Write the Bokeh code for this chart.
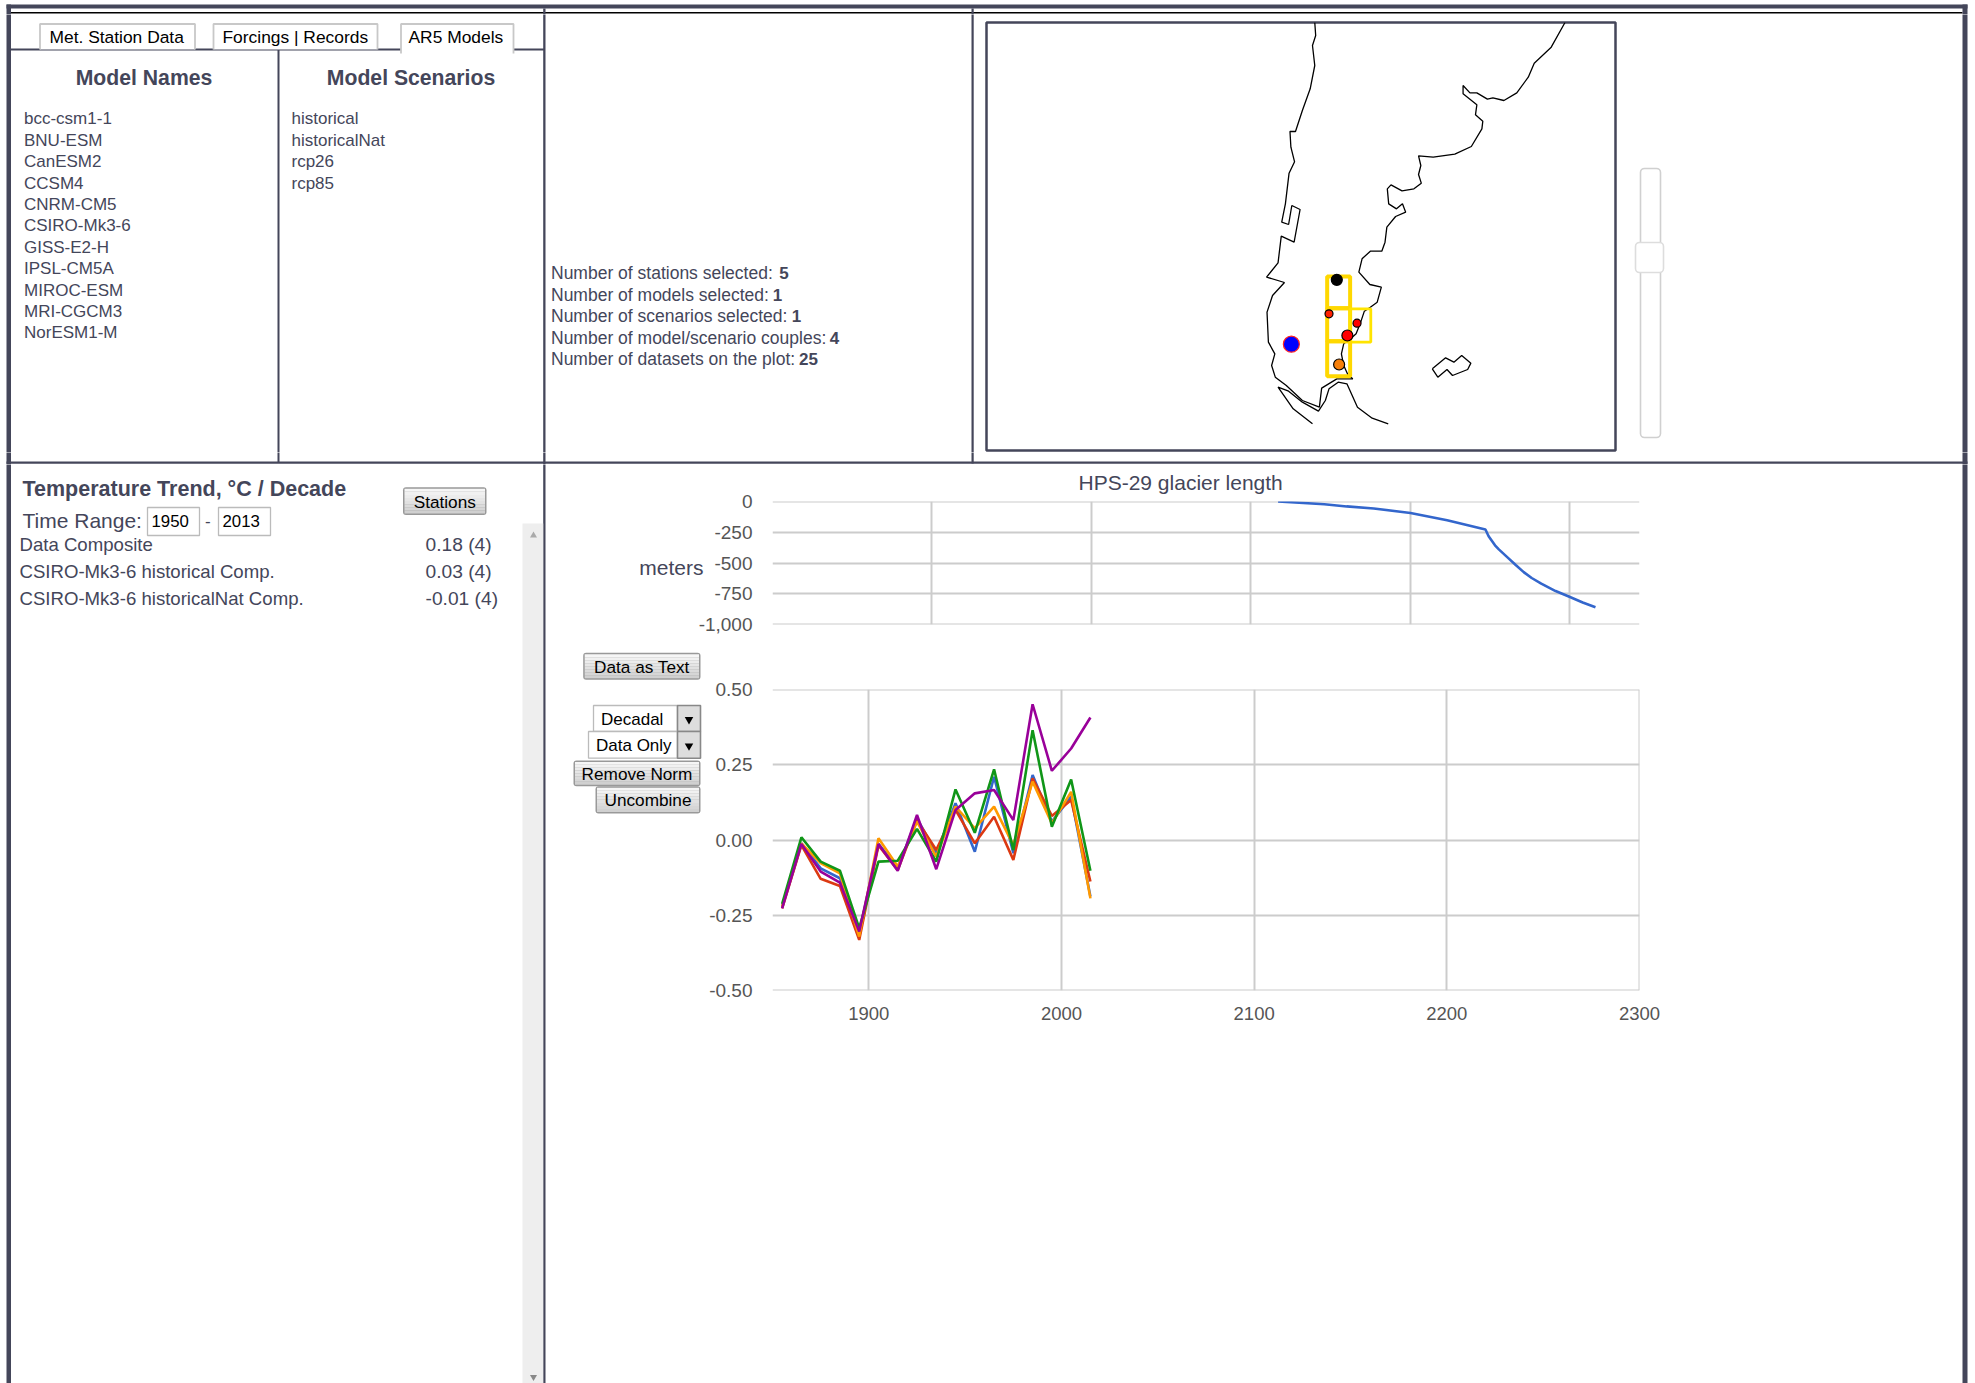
from bokeh.plotting import figure
from bokeh.layouts import row, column
from bokeh.models import Range1d, FixedTicker, LinearAxis, Title
from bokeh.core.properties import value
from bokeh.embed import file_html
from bokeh.resources import INLINE

# ---------- texts ----------
tabs = ["Met. Station Data", "Forcings | Records", "AR5 Models"]
model_names = ["bcc-csm1-1", "BNU-ESM", "CanESM2", "CCSM4", "CNRM-CM5", "CSIRO-Mk3-6",
               "GISS-E2-H", "IPSL-CM5A", "MIROC-ESM", "MRI-CGCM3", "NorESM1-M"]
model_scenarios = ["historical", "historicalNat", "rcp26", "rcp85"]
summary_labels = ["Number of stations selected:", "Number of models selected:",
                  "Number of scenarios selected:", "Number of model/scenario couples:",
                  "Number of datasets on the plot:"]
summary_values = ["5", "1", "1", "4", "25"]
trend_names = ["Data Composite", "CSIRO-Mk3-6 historical Comp.", "CSIRO-Mk3-6 historicalNat Comp."]
trend_values = ["0.18 (4)", "0.03 (4)", "-0.01 (4)"]

# ---------- glacier length chart ----------
glacier_x = [317, 346, 360, 377, 400, 423, 447, 449, 453, 455.4, 461, 466, 471, 476, 482, 491, 500, 508, 516]
glacier_y = [0, -22, -40, -57, -93, -152, -228, -283, -356, -389, -456, -516, -574, -622, -668, -728, -777, -821, -859]
glacier_yticks = [0, -250, -500, -750, -1000]
glacier_ylabels = ["0", "-250", "-500", "-750", "-1,000"]
glacier_xticks = [100, 200, 300, 400, 500]
unit_tick = -537

# ---------- temperature chart ----------
decades = [1855, 1865, 1875, 1885, 1895, 1905, 1915, 1925, 1935, 1945, 1955, 1965, 1975, 1985, 1995, 2005, 2015]
series_blue = [-.221, -.011, -.094, -.127, -.310, -.013, -.094, .072, -.044, .122, -.039, .210, -.044, .216, .061, .144, -.188]
series_red = [-.227, -.017, -.129, -.153, -.332, -.017, -.100, .066, -.033, .100, -.011, .077, -.066, .205, .080, .133, -.138]
series_orange = [-.221, -.011, -.077, -.111, -.321, .006, -.088, .061, -.055, .111, .039, .111, -.017, .194, .055, .160, -.194]
series_green = [-.212, .009, -.072, -.102, -.293, -.072, -.069, .037, -.072, .168, .024, .235, -.033, .365, .044, .201, -.102]
series_purple = [-.227, -.013, -.105, -.142, -.304, -.013, -.102, .083, -.097, .100, .155, .166, .066, .451, .230, .304, .407]
temp_xticks = [1900, 2000, 2100, 2200, 2300]
temp_yticks = [0.5, 0.25, 0.0, -0.25, -0.5]
temp_ylabels = ["0.50", "0.25", "0.00", "-0.25", "-0.50"]

# ---------- map, in map units ----------
west_x = [772, 774, 767, 772, 762, 745, 730, 718, 720, 728, 716, 708, 700, 715, 722, 740, 727, 699, 692, 667, 706, 680, 668, 671, 685, 678, 686, 710, 745, 782, 787, 820, 855]
west_y = [66, 105, 135, 195, 265, 330, 393, 393, 440, 484, 518, 610, 665, 672, 615, 627, 725, 707, 787, 830, 846, 885, 935, 1025, 1060, 1095, 1130, 1155, 1200, 1220, 1163, 1135, 1135]
east_x = [1317, 1287, 1250, 1237, 1212, 1184, 1160, 1148, 1125, 1110, 1095, 1095, 1125, 1122, 1138, 1136, 1113, 1077, 1030, 998, 1003, 998, 1004, 988, 962, 938, 930, 933, 950, 963, 970, 948, 929, 925, 918, 893, 875, 868, 892, 917, 908, 893, 880, 872, 862, 850, 835, 830, 835, 845, 855]
east_y = [66, 140, 188, 230, 277, 300, 292, 296, 277, 277, 255, 280, 313, 343, 362, 385, 438, 461, 470, 466, 495, 522, 548, 565, 571, 553, 565, 610, 625, 610, 635, 648, 680, 725, 752, 752, 775, 815, 852, 860, 905, 920, 932, 965, 1000, 1015, 1030, 1060, 1095, 1125, 1135]
fuego_x = [767, 725, 692, 715, 745, 780, 795, 803, 823, 842, 865, 897, 932]
fuego_y = [1270, 1225, 1160, 1172, 1205, 1232, 1200, 1165, 1145, 1150, 1220, 1253, 1270]
falkland_x = [1028, 1057, 1075, 1092, 1112, 1105, 1072, 1060, 1040, 1028]
falkland_y = [1105, 1072, 1085, 1065, 1088, 1107, 1125, 1107, 1130, 1105]
box_left = [799, 799, 849, 799]
box_right = [849, 849, 894, 849]
box_top = [828, 923, 925, 1022]
box_bottom = [923, 1022, 1025, 1127]
station_x = [820, 803, 864, 843, 825]
station_y = [838, 940, 968, 1005, 1092]
station_color = ["#000000", "#ff2200", "#ff0000", "#ff0000", "#f77f0a"]
station_size = [11, 8, 8, 11, 11]
selected_x = [721]
selected_y = [1031]

# ---------- style ----------
FONT = "Liberation Sans"
INK = "#44465a"
TICK = "#555555"
GRID = "#cccccc"


def pixel_fig(x0, x1, y0, y1):
    p = figure(width=x1 - x0, height=y1 - y0, x_range=Range1d(x0, x1), y_range=Range1d(y1, y0),
               x_axis_type=None, y_axis_type=None, output_backend="svg", toolbar_location=None,
               min_border=0, outline_line_color=None, frame_align=False)
    p.grid.visible = False
    structure(p)
    return p


def bar(p, l, r, t, b, color=INK):
    p.quad(left=l, right=r, top=t, bottom=b, fill_color=color, line_color=None)


def structure(p):
    bar(p, 6, 1967, 4, 8)              # top bar
    bar(p, 10, 1962, 11.5, 13, "#000000")
    bar(p, 6, 10.5, 4, 1383)           # left border
    bar(p, 1962, 1967, 4, 1383)        # right border
    bar(p, 542.7, 545, 8, 1383)        # panel divider
    bar(p, 971, 973.2, 8, 463)         # map divider
    bar(p, 277, 279, 49, 462)          # names / scenarios divider
    bar(p, 10, 544, 48, 50)            # tab line
    bar(p, 6, 1967, 461, 463.3)        # row divider


def label(p, x, y, txt, size=17, color=INK, align="left", style="normal"):
    p.text(x=[x], y=[y], text=[txt], text_font=value(FONT), text_font_size=f"{size}px",
           text_color=color, text_align=align, text_baseline="middle", text_font_style=style)


def button(p, l, r, t, b, txt):
    p.quad(left=l, right=r, top=t, bottom=b, fill_color="#999999", line_color=None, border_radius=3)
    steps = 8
    h = (b - t - 3) / steps
    for i in range(steps):
        shade = 246 - int(i * 38 / (steps - 1))
        c = f"#{shade:02x}{shade:02x}{shade:02x}"
        bar(p, l + 1.5, r - 1.5, t + 1.5 + i * h, t + 1.5 + (i + 1) * h, c)
    label(p, (l + r) / 2, (t + b) / 2 + 0.5, txt, 17.2, "#000000", "center")


def select(p, l, split, r, t, b, txt):
    p.quad(left=l, right=split, top=t, bottom=b, fill_color="#ffffff", line_color="#bbbbbb", line_width=1.3)
    p.quad(left=split, right=r, top=t, bottom=b, fill_color="#dddddd", line_color="#888888", line_width=1.6)
    p.scatter(x=[(split + r) / 2], y=[(t + b) / 2 + 1], marker="inverted_triangle", size=8.5,
              fill_color="#000000", line_color=None)
    label(p, l + 7.5, (t + b) / 2 + 1, txt, 17, "#000000")


# ---------- top strip ----------
strip_top = pixel_fig(0, 1975, 0, 14)

# ---------- top left panel ----------
mid_left = pixel_fig(0, 975, 14, 452)
tab_edges = [(39.5, 194.5), (213, 377), (400.5, 513)]
tab_text_x = [49, 222, 408]
for i, ((l, r), tx, t) in enumerate(zip(tab_edges, tab_text_x, tabs)):
    bottom = 53 if i == 2 else 49
    mid_left.quad(left=l, right=r, top=23.5, bottom=bottom, fill_color="#ffffff", line_color=None)
    mid_left.line(x=[l, l, r, r], y=[bottom, 23.5, 23.5, bottom], line_color="#c8c8c8", line_width=1.8)
    label(mid_left, tx, 36, t, 17.4, "#000000")
label(mid_left, 143.5, 76.5, "Model Names", 21.2, INK, "center", "bold")
label(mid_left, 410.5, 76.5, "Model Scenarios", 21.2, INK, "center", "bold")
for i, name in enumerate(model_names):
    label(mid_left, 23.5, 118.4 + 21.4 * i, name)
for i, name in enumerate(model_scenarios):
    label(mid_left, 291, 118.4 + 21.4 * i, name)
value_x = [783.4, 777, 796, 834, 808]
for i, (txt, val) in enumerate(zip(summary_labels, summary_values)):
    label(mid_left, 550.5, 272.8 + 21.4 * i, txt, 17.5)
    label(mid_left, value_x[i], 272.8 + 21.4 * i, val, 17, align="center", style="bold")

# ---------- map ----------
map_fig = figure(width=650, height=438, x_range=Range1d(57, 1427), y_range=Range1d(1350, 66),
                 x_axis_type=None, y_axis_type=None, output_backend="svg", toolbar_location=None,
                 min_border_left=11, min_border_right=10, min_border_top=8, min_border_bottom=2,
                 outline_line_color=INK, outline_line_width=2.5, frame_align=False)
map_fig.grid.visible = False
for xs, ys in [(west_x, west_y), (east_x, east_y), (fuego_x, fuego_y), (falkland_x, falkland_y)]:
    map_fig.line(x=xs, y=ys, line_color="#000000", line_width=1.3)
map_fig.quad(left=box_left, right=box_right, top=box_top, bottom=box_bottom,
             fill_color=None, line_color=["#ffd800", "#ffd800", "#ffe400", "#ffd800"],
             line_width=[4, 4, 2.8, 4])
map_fig.scatter(x=selected_x, y=selected_y, size=16, fill_color="#0000ff", line_color="#ff2222", line_width=1.2)
map_fig.scatter(x=station_x, y=station_y, size=station_size, fill_color=station_color,
                line_color="#000000", line_width=1.2)

# ---------- right of map: slider ----------
mid_right = pixel_fig(1625, 1975, 14, 452)
mid_right.quad(left=1640, right=1660, top=168, bottom=437, fill_color="#ffffff", line_color="#d0d0d0",
               line_width=1.6, border_radius=4)
mid_right.quad(left=1635, right=1663, top=242, bottom=272, fill_color="#ffffff", line_color="#dddddd",
               line_width=1.6, border_radius=4)

# ---------- divider strip ----------
strip_mid = pixel_fig(0, 1975, 452, 464)

# ---------- lower left panel ----------
low_left = pixel_fig(0, 546, 464, 1383)
bar(low_left, 522, 542.7, 523, 1383, "#eeeeee")
low_left.scatter(x=[533], y=[535], marker="triangle", size=7, fill_color="#aaaaaa", line_color=None)
low_left.scatter(x=[533], y=[1376.5], marker="inverted_triangle", size=7, fill_color="#888888", line_color=None)
label(low_left, 22, 488, "Temperature Trend, °C / Decade", 21.5, INK, style="bold")
label(low_left, 22, 519.5, "Time Range:", 21)
label(low_left, 204.5, 520, "-", 17)
for l, r, txt in [(147, 199, "1950"), (218, 270, "2013")]:
    low_left.quad(left=l, right=r, top=507, bottom=535, fill_color="#ffffff", line_color="#bbbbbb", line_width=1.3)
    label(low_left, l + 4, 520.5, txt, 16.8, "#000000")
button(low_left, 402.5, 486, 486.7, 514.5, "Stations")
for i, (name, val) in enumerate(zip(trend_names, trend_values)):
    y = [544, 571, 598][i]
    label(low_left, 19, y, name, 18.6)
    label(low_left, 425, y, val, 19.2)

# ---------- glacier chart ----------
chart1 = figure(width=1414, height=176, x_range=Range1d(0, 543.6), y_range=Range1d(-1000.01, 0.01),
                output_backend="svg", toolbar_location=None, outline_line_color=None, frame_align=False,
                min_border_left=226, min_border_right=321, min_border_top=37, min_border_bottom=16)
chart1.xaxis.visible = False
chart1.xgrid.ticker = FixedTicker(ticks=glacier_xticks)
chart1.ygrid.ticker = FixedTicker(ticks=glacier_yticks)
yax = chart1.yaxis[0]
yax.ticker = FixedTicker(ticks=glacier_yticks)
yax.major_label_overrides = dict(zip(glacier_yticks, glacier_ylabels))
chart1.line(x=glacier_x, y=glacier_y, line_color="#3366cc", line_width=2.6)
chart1.add_layout(Title(text="HPS-29 glacier length", text_font=FONT, text_font_size="21px",
                        text_font_style="normal", text_color=INK, align="left", offset=306,
                        standoff=12, vertical_align="top"), "above")
unit_axis = LinearAxis(ticker=FixedTicker(ticks=[unit_tick]), major_label_overrides={unit_tick: "meters"},
                       major_label_standoff=-8, major_tick_out=0,
                       major_label_text_font=FONT, major_label_text_font_size="21px",
                       major_label_text_color=INK,
                       axis_line_color=None, major_tick_line_color=None, minor_tick_line_color=None)
chart1.add_layout(unit_axis, "left")

# ---------- buttons ----------
buttons = pixel_fig(546, 703, 640, 1383)
button(buttons, 582.7, 700, 652.3, 679.3, "Data as Text")
select(buttons, 593, 677, 700, 705, 731, "Decadal")
select(buttons, 588, 677, 700, 731, 757.7, "Data Only")
button(buttons, 573, 700, 760, 785.7, "Remove Norm")
button(buttons, 595, 700, 785.7, 813, "Uncombine")

# ---------- temperature chart ----------
chart2 = figure(width=1257, height=743, x_range=Range1d(1850, 2300.001), y_range=Range1d(-0.50001, 0.50001),
                output_backend="svg", toolbar_location=None, outline_line_color=None, frame_align=False,
                min_border_left=69, min_border_right=321, min_border_top=49, min_border_bottom=393)
chart2.xgrid.ticker = FixedTicker(ticks=temp_xticks)
chart2.ygrid.ticker = FixedTicker(ticks=temp_yticks)
chart2.xaxis[0].ticker = FixedTicker(ticks=temp_xticks)
chart2.yaxis[0].ticker = FixedTicker(ticks=temp_yticks)
chart2.yaxis[0].major_label_overrides = dict(zip(temp_yticks, temp_ylabels))
chart2.xaxis[0].major_label_text_font_size = "18.5px"
chart2.xaxis[0].major_label_standoff = 10
for series, color in [(series_blue, "#3366cc"), (series_red, "#dc3912"), (series_orange, "#ff9900"),
                      (series_green, "#109618"), (series_purple, "#990099")]:
    chart2.line(x=decades, y=series, line_color=color, line_width=2.6)

for c in (chart1, chart2):
    main_y = c.yaxis[0]
    for ax in c.axis:
        ax.axis_line_color = None
        ax.major_tick_line_color = None
        ax.minor_tick_line_color = None
    for ax in (main_y, c.xaxis[0]):
        ax.major_label_text_font = FONT
        ax.major_label_text_color = TICK
    main_y.major_label_text_font_size = "19px"
    main_y.major_tick_out = 0
    main_y.major_label_standoff = 20
    c.xgrid.grid_line_color = GRID
    c.ygrid.grid_line_color = GRID
    c.xgrid.grid_line_width = 2
    c.ygrid.grid_line_width = 2

# ---------- right edge ----------
low_right = pixel_fig(1960, 1975, 464, 1383)

page = column(
    strip_top,
    row(mid_left, map_fig, mid_right, spacing=0),
    strip_mid,
    row(low_left, column(chart1, row(buttons, chart2, spacing=0), spacing=0), low_right, spacing=0),
    spacing=0,
)

open("out.html", "w").write(file_html(page, INLINE))
